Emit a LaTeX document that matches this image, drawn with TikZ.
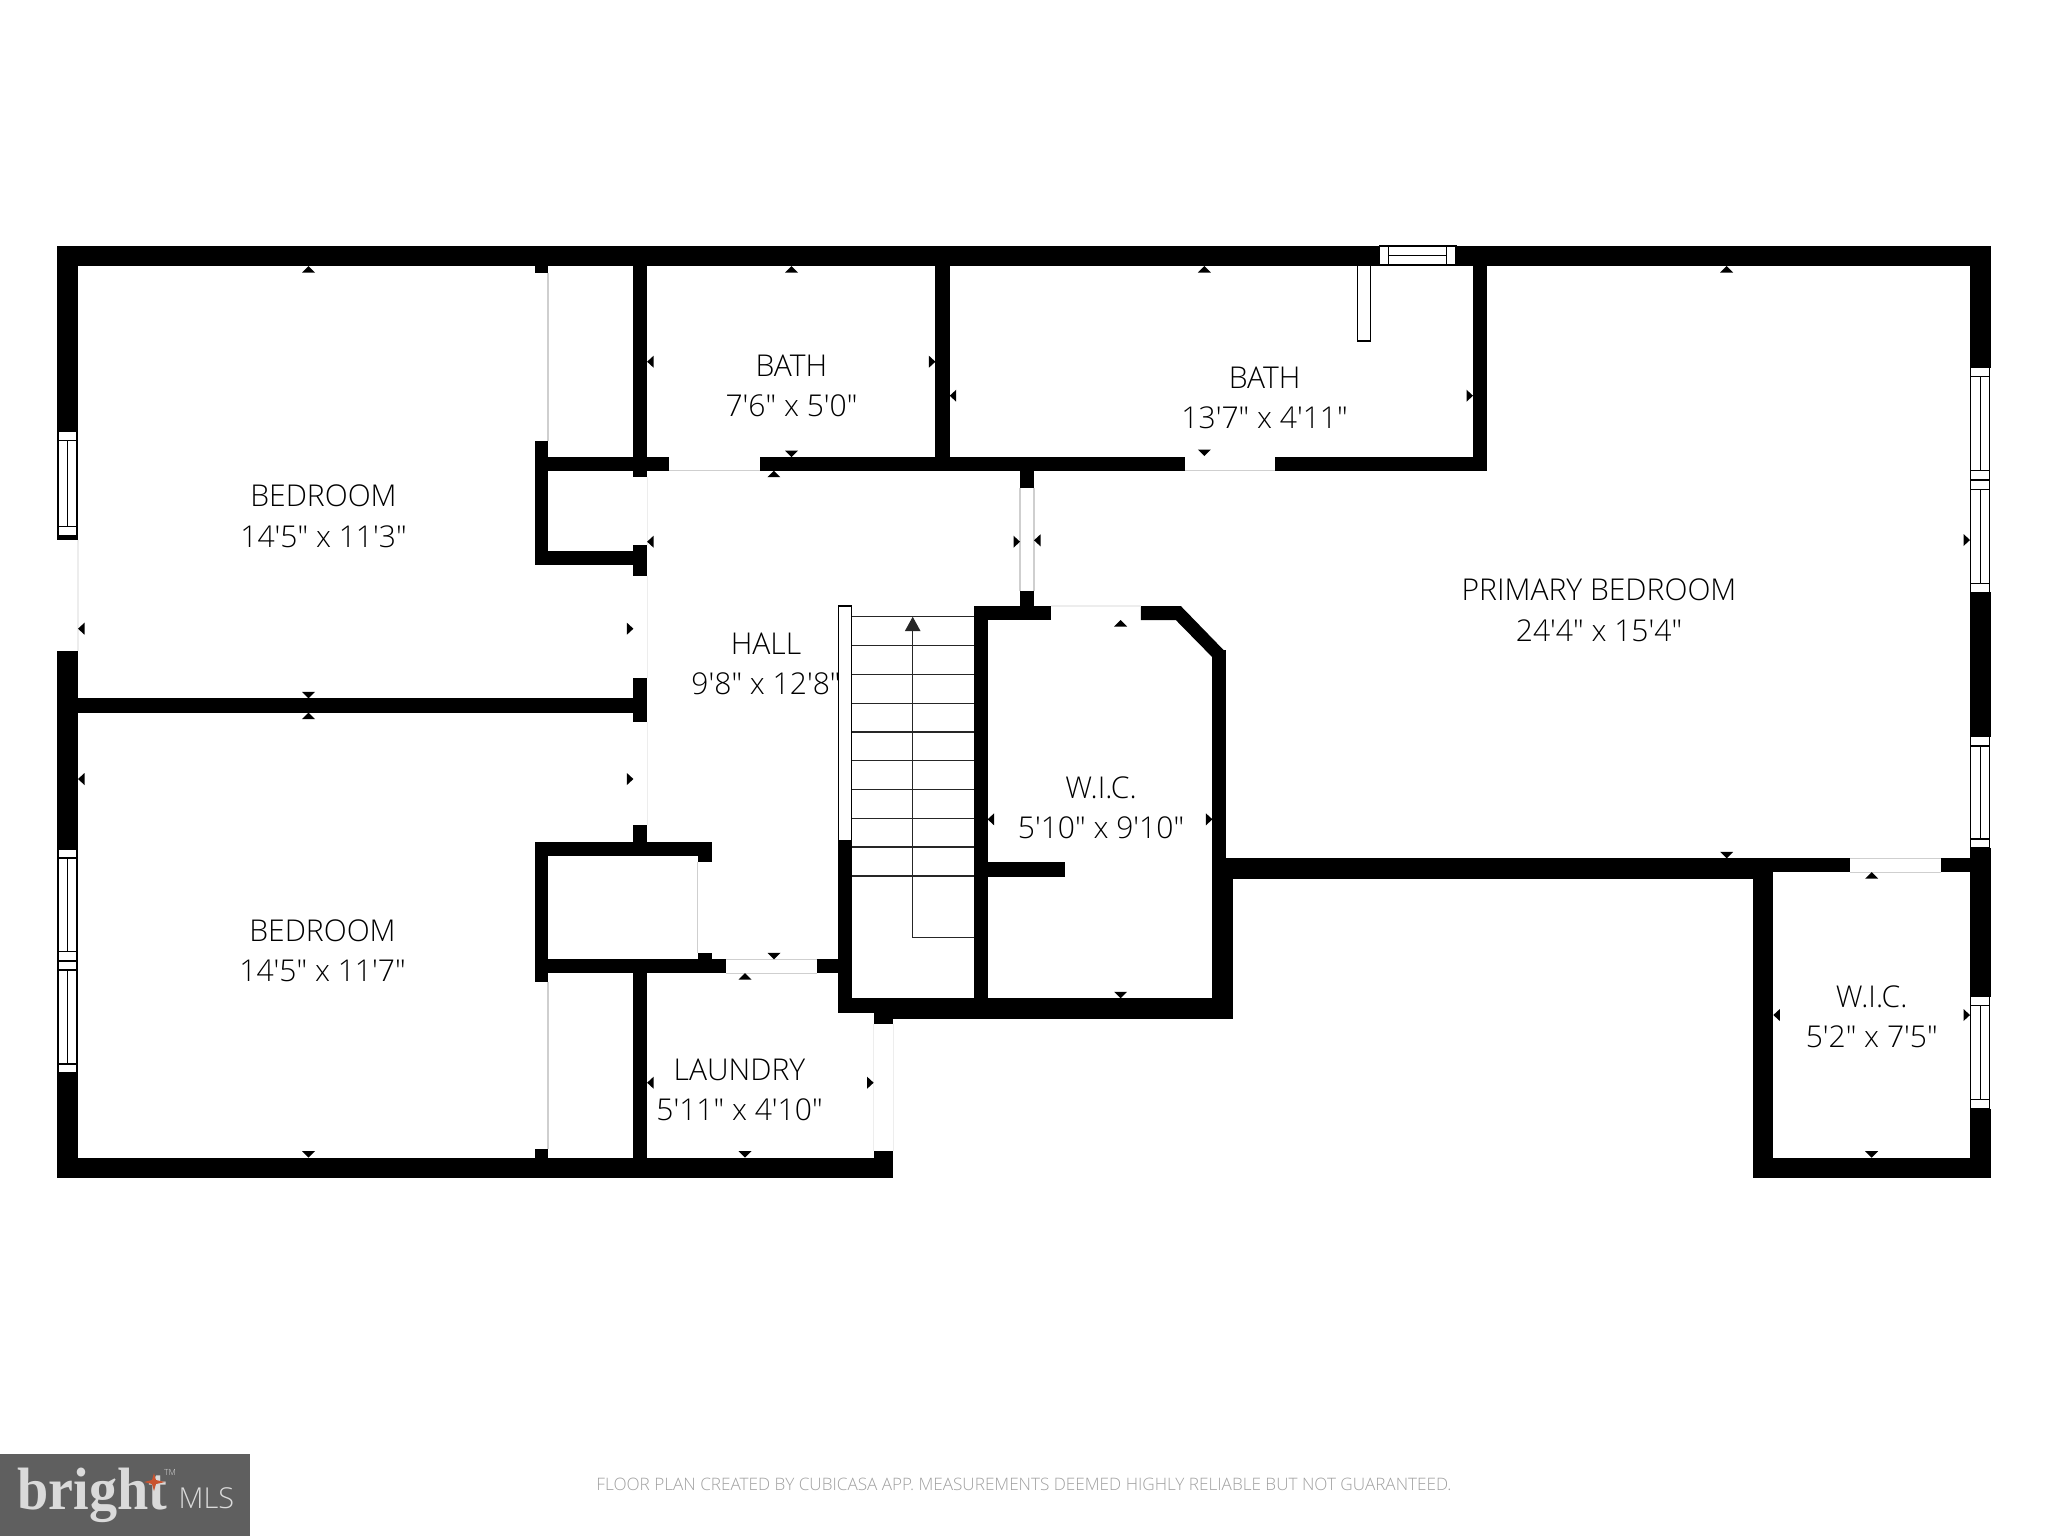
\documentclass[tikz,border=0pt]{standalone}
\usepackage{fontspec}
\usetikzlibrary{arrows.meta}
\newfontfamily\planfont[UprightFont={* Light}]{Open Sans}
\newfontfamily\logofont[BoldFont={* Bold}]{Liberation Serif}

\definecolor{logogray}{HTML}{5F5F5F}
\definecolor{logotext}{HTML}{DADADA}
\definecolor{logostar}{HTML}{C9532F}
\definecolor{notegray}{HTML}{A0A0A0}
\definecolor{dooredge}{HTML}{CFCFCF}
\definecolor{doorfaint}{HTML}{EDEDED}

\tikzset{
    wall/.style={fill=black},
    windowbox/.style={draw=black, fill=white, line width=0.35pt},
    doorline/.style={draw=dooredge, line width=0.3pt},
    faintline/.style={draw=doorfaint, line width=0.3pt},
    tread/.style={draw=black!85, line width=0.4pt},
    roomlabel/.style={font=\planfont\fontsize{8.55}{11.52}\selectfont, align=center, inner sep=0pt},
    notelabel/.style={font=\planfont\fontsize{4.88}{6}\selectfont, text=notegray, inner sep=0pt},
}

\begin{document}
\begin{tikzpicture}[x=0.1mm, y=-0.1mm]
\useasboundingbox (0, 0) rectangle (2048, 1536);

% walls, as x1/y1/x2/y2 in pixels of the plan
\foreach \xa/\ya/\xb/\yb in {
    57/246/1990.7/265.7,     57/246/78/431.7,         57/536/78/540,
    57/651/78/1178,          57/1157.7/893.4/1178.3,  873.6/1151/893.4/1158,
    1970/246/1990.7/367.7,   1970/592.3/1990.7/736.7, 1970/848/1990.7/996.7,
    1970/1108.7/1990.7/1178.3, 1752.7/1157.7/1990.7/1178.3,
    534.5/246/548/273.3,     534.5/441/548/564.7,     534.5/550.7/633.4/564.7,
    534.5/457/669.4/470.7,   760/457/1185/470.7,      1275/457/1486.8/470.7,
    1473/246/1486.8/470.7,   935.4/246/949.7/457,
    633.4/246/647.1/477.3,   633.4/545/647.1/575.7,   633.4/678.3/647.1/721.7,
    633.4/825/647.1/845,     78/698.3/647.1/712.7,
    534.5/841.7/711.5/855.7, 534.5/841.7/548/981.7,   697.6/841.7/711.5/862.3,
    697.6/952.7/711.5/960,   534.5/959.3/726.3/973,   816.8/959.3/851.7/973,
    534.5/1149.3/548/1158,   633.4/960/647.1/1158,
    838.2/840.7/851.7/1012.7, 838.2/998.3/893.4/1012.7, 873.6/998.3/893.4/1024,
    873.6/998.3/1233/1018.7, 974/606/987.6/1000,      974/606/1050.8/620,
    987.6/862.3/1064.6/876.7, 1020/470.7/1034/488.3,  1020/591/1034/606,
    1212.4/650/1225.8/860,   1212.4/858.3/1233/1018.7, 1233/858.3/1850/872,
    1233/872/1752.7/878.7,   1940.7/858.3/1970/872,   1752.7/858.3/1773.3/1178.3
}{
    \fill[wall] (\xa, \ya) rectangle (\xb, \yb);
}
\fill[wall] (1140.8, 606) -- (1180.8, 606) -- (1225.8, 652.3) -- (1225.8, 665)
    -- (1212.4, 665) -- (1212.4, 657.3) -- (1175.8, 620) -- (1140.8, 620) -- cycle;

% edges of the door openings
\foreach \xa/\ya/\xb/\yb in {
    548/273.3/548/441,       548/981.7/548/1149.3,    697.6/862.3/697.6/952.7,
    726.3/959.3/816.8/959.3, 726.3/973/816.8/973,     669.4/470.7/760/470.7,
    1185/470.7/1275/470.7,   1020/488.3/1020/591,     1034/488.3/1034/591,
    1850/858.3/1940.7/858.3, 1850/872/1940.7/872
}{
    \draw[doorline] (\xa, \ya) -- (\xb, \yb);
}
\foreach \xa/\ya/\xb/\yb in {
    78/540/78/651,           647.1/477.3/647.1/545,   647.1/575.7/647.1/678.3,
    647.1/721.7/647.1/825,   1050.8/606/1140.8/606,   873.6/1024/873.6/1151,
    893.4/1024/893.4/1151
}{
    \draw[faintline] (\xa, \ya) -- (\xb, \yb);
}

% windows on the side walls
\foreach \xa/\xb/\ya/\yb/\ca/\cb in {
    58/77/431.7/536/440.7/526.7,     58/77/849/961/858/951.7,
    58/77/961/1072.7/970/1064,       1970.8/1989.7/367.7/480/376.7/470.7,
    1970.8/1989.7/480/592.3/489.3/583.3, 1970.8/1989.7/736.7/848/746/839,
    1970.8/1989.7/996.7/1108.7/1005.7/1099.3
}{
    \draw[windowbox] (\xa, \ya) rectangle (\xb, \yb);
    \draw[windowbox] (\xa, \ca) -- (\xb, \ca);
    \draw[windowbox] (\xa, \cb) -- (\xb, \cb);
    \draw[windowbox] ({(\xa+\xb)/2}, \ca) -- ({(\xa+\xb)/2}, \cb);
}
% window on the top wall
\draw[windowbox] (1379.5, 246) rectangle (1456, 265);
\draw[windowbox] (1388.7, 246) -- (1388.7, 265);
\draw[windowbox] (1446.8, 246) -- (1446.8, 265);
\draw[windowbox] (1388.7, 255.3) -- (1446.8, 255.3);
\draw[windowbox] (1357.6, 265) rectangle (1370.6, 341);

% stairs
\draw[windowbox] (838.2, 606) rectangle (851.7, 841);
\foreach \y in {616.7, 645.3, 674.3, 703.3, 732, 760.7, 789.3, 818.3, 847, 876} {
    \draw[tread] (851.7, \y) -- (974, \y);
}
\coordinate (stairfoot) at (974, 937.7);
\coordinate (stairturn) at (912.7, 937.7);
\coordinate (stairhead) at (912.7, 616.7);
\draw[tread, -{Triangle[length=1.45mm, width=1.55mm]}] (stairfoot) -- (stairturn) -- (stairhead);

% small ticks along the walls
\foreach \x/\y in {308.5/266, 308.5/712.7, 791.5/266, 773.8/470.7, 1204.4/266,
    1726.7/266, 1120.6/620, 745/973, 1871.7/872} {
    \fill (\x, \y) -- ++(6.5, 6.5) -- ++(-13, 0) -- cycle;
}
\foreach \x/\y in {308.5/698.3, 308.5/1157.7, 791.5/457, 1204.4/456, 1120.6/998.3,
    774/959.3, 745/1157.7, 1726.7/858.3, 1871.7/1157.7} {
    \fill (\x, \y) -- ++(6.5, -6.5) -- ++(-13, 0) -- cycle;
}
\foreach \x/\y in {78/628.7, 78/779, 647.1/361.7, 647.1/541.7, 1034/540.3, 949.7/395.7,
    987.6/819.3, 647.1/1082.7, 1773.3/1015} {
    \fill (\x, \y) -- ++(6.5, 6) -- ++(0, -12) -- cycle;
}
\foreach \x/\y in {633.4/628.7, 633.4/779, 935.4/361.7, 1020/541.7, 1473/395.7,
    1970/540, 1212.4/819.3, 873.6/1082.7, 1970/1015} {
    \fill (\x, \y) -- ++(-6.5, 6) -- ++(0, -12) -- cycle;
}

% room names
\node[roomlabel] (bedroomtop) at (323.5, 516) {BEDROOM\\14'5" x 11'3"};
\node[roomlabel] (bedroomlow) at (322.5, 950.5) {BEDROOM\\14'5" x 11'7"};
\node[roomlabel] (bathsmall) at (791.5, 386) {BATH\\7'6" x 5'0"};
\node[roomlabel] (bathlarge) at (1264.6, 398) {BATH\\13'7" x 4'11"};
\node[roomlabel] (primary) at (1599, 610) {PRIMARY BEDROOM\\24'4" x 15'4"};
\node[roomlabel] (hall) at (766, 664) {HALL\\9'8" x 12'8"};
\node[roomlabel] (wicstairs) at (1101, 807.5) {W.I.C.\\5'10" x 9'10"};
\node[roomlabel] (laundry) at (739.5, 1090) {LAUNDRY\\5'11" x 4'10"};
\node[roomlabel] (wicright) at (1871.7, 1016.5) {W.I.C.\\5'2" x 7'5"};

% footer
\node[notelabel] (disclaimer) at (1024, 1484)
    {FLOOR PLAN CREATED BY CUBICASA APP. MEASUREMENTS DEEMED HIGHLY RELIABLE BUT NOT GUARANTEED.};

% logo
\fill[logogray] (0, 1454) rectangle (250, 1536);
\node[font=\logofont\bfseries\fontsize{17}{17}\selectfont, text=logotext, inner sep=0pt, anchor=base west,
    xscale=0.94, transform shape] (brightword) at (17, 1509) {bright};
\node[font=\planfont\fontsize{8.2}{9}\selectfont, text=logotext, inner sep=0pt, anchor=base west]
    (mlsword) at (178, 1508.5) {MLS};
\node[font=\planfont\fontsize{2.4}{3}\selectfont, text=logotext, inner sep=0pt]
    (trademark) at (170, 1472) {TM};
\fill[logostar] (144, 1482) -- (152, 1480) -- (154, 1473) -- (156, 1480) -- (165, 1482)
    -- (156, 1484) -- (154, 1491) -- (152, 1484) -- cycle;
\end{tikzpicture}
\end{document}
